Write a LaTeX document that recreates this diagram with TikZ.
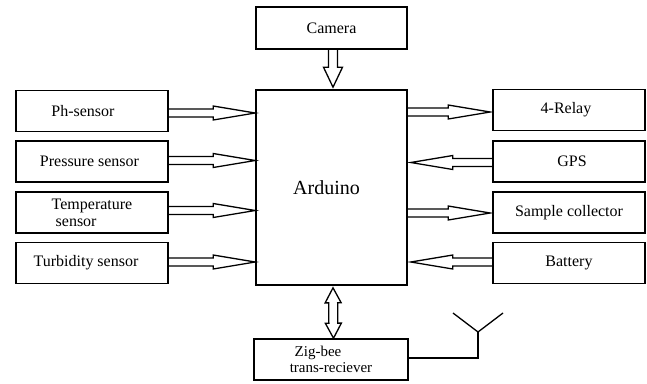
\documentclass[tikz,border=0pt]{standalone}
\usepackage{fontspec}
\newfontfamily\tms{LiberationSerif}[Extension=.ttf, UprightFont=*-Regular, BoldFont=*-Bold]
\usetikzlibrary{calc}
\tikzset{
  box/.style={draw, line width=1.6pt, minimum width=152pt, minimum height=41pt, inner sep=0pt, font=\tms\fontsize{16}{19}\selectfont},
  barrow/.style={draw, line width=1.3pt, line join=miter},
}
% block arrow: #1 start, #2 tip, #3 shaft half width, #4 head half width, #5 head length
\newcommand{\blockarr}[5]{%
  \coordinate (ba-h) at ($(#2)!#5!(#1)$);
  \draw[barrow] ($(#1)!#3!90:(#2)$) -- ($(ba-h)!#3!-90:(#1)$) -- ($(ba-h)!#4!-90:(#1)$) -- (#2)
     -- ($(ba-h)!#4!90:(#1)$) -- ($(ba-h)!#3!90:(#1)$) -- ($(#1)!#3!-90:(#2)$);}
% double-headed block arrow
\newcommand{\dblockarr}[5]{%
  \coordinate (bb-h1) at ($(#1)!#5!(#2)$);
  \coordinate (bb-h2) at ($(#2)!#5!(#1)$);
  \draw[barrow] (#1) -- ($(bb-h1)!#4!90:(#2)$) -- ($(bb-h1)!#3!90:(#2)$) -- ($(bb-h2)!#3!-90:(#1)$)
     -- ($(bb-h2)!#4!-90:(#1)$) -- (#2) -- ($(bb-h2)!#4!90:(#1)$) -- ($(bb-h2)!#3!90:(#1)$)
     -- ($(bb-h1)!#3!-90:(#2)$) -- ($(bb-h1)!#4!-90:(#2)$) -- cycle;}
\begin{document}
\begin{tikzpicture}[x=1pt,y=-1pt]
\useasboundingbox (0,0) rectangle (647,383);
% nodes
\node[box, minimum width=151pt, minimum height=42pt] (cam) at (331.5,28) {Camera};
\node[box, minimum width=151pt, minimum height=195pt, font=\tms\fontsize{20}{24}\selectfont] (ard) at (331.5,187.5) {\hspace*{-10pt}Arduino};
\node[box] (ph) at (92,111) {\hspace*{-18pt}Ph-sensor};
\node[box] (pr) at (92,161.5) {\hspace*{-5pt}Pressure sensor};
\node[box, align=left, font=\tms\fontsize{16}{17}\selectfont] (te) at (92,212.5) {\hspace*{0pt}Temperature\\\hspace*{4pt}sensor};
\node[box] (tu) at (92,263) {\hspace*{-12pt}Turbidity sensor};
\node[box] (re) at (569,110) {\hspace*{-6pt}4-Relay};
\node[box] (gp) at (569,161.5) {\hspace*{6pt}GPS};
\node[box] (sa) at (569,212.5) {Sample collector};
\node[box] (ba) at (569,263) {Battery};
\node[box, minimum width=154pt, align=center, font=\tms\fontsize{15}{16}\selectfont] (zb) at (331,359.5) {\hspace*{-26pt}Zig-bee\\trans-reciever};
% helper coordinates
\coordinate (camb) at ($(cam.south)+(1.5,0)$);
\coordinate (ardt) at ($(ard.north)+(1.5,-2)$);
\coordinate (ardb) at ($(ard.south)+(1.5,2)$);
\coordinate (zbt) at ($(zb.north)+(2.5,0)$);
\coordinate (ph1) at ($(ph.east)+(0,2)$);
\coordinate (ph2) at (ph1 -| ard.west);
\coordinate (pr1) at ($(pr.east)+(0,-1)$);
\coordinate (pr2) at (pr1 -| ard.west);
\coordinate (te1) at ($(te.east)+(0,-2)$);
\coordinate (te2) at (te1 -| ard.west);
\coordinate (tu1) at ($(tu.east)+(0,-1)$);
\coordinate (tu2) at (tu1 -| ard.west);
\coordinate (re1) at ($(re.west)+(-2,2)$);
\coordinate (re2) at (re1 -| ard.east);
\coordinate (gp1) at ($(gp.west)+(0,1)$);
\coordinate (gp2) at ($(gp1 -| ard.east)+(3,0)$);
\coordinate (sa1) at ($(sa.west)+(-2,0.5)$);
\coordinate (sa2) at (sa1 -| ard.east);
\coordinate (ba1) at ($(ba.west)+(0,-1)$);
\coordinate (ba2) at ($(ba1 -| ard.east)+(3,0)$);
% arrows
\blockarr{camb}{ardt}{4.5pt}{9.5pt}{20pt}
\blockarr{ph1}{ph2}{4pt}{7pt}{42pt}
\blockarr{pr1}{pr2}{4pt}{7pt}{42pt}
\blockarr{te1}{te2}{4pt}{7pt}{42pt}
\blockarr{tu1}{tu2}{4pt}{7pt}{42pt}
\blockarr{re2}{re1}{4pt}{7pt}{42pt}
\blockarr{gp1}{gp2}{4pt}{7pt}{42pt}
\blockarr{sa2}{sa1}{4pt}{7pt}{42pt}
\blockarr{ba1}{ba2}{4pt}{7pt}{42pt}
\dblockarr{ardb}{zbt}{4.5pt}{8pt}{15pt}
% antenna
\coordinate (ant) at (478,332);
\coordinate (antl) at (453,313);
\coordinate (antr) at (503,313);
\draw[line width=1.3pt] ($(zb.east)+(0,-1.5)$) -| (ant);
\draw[line width=1.3pt] (antl) -- (ant) -- (antr);
\end{tikzpicture}
\end{document}
